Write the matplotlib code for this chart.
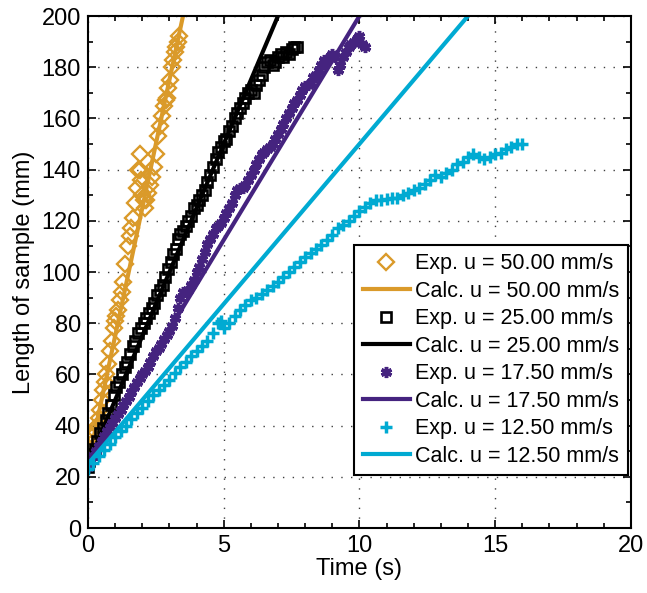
import matplotlib
matplotlib.use('Agg')
import matplotlib.pyplot as plt
from matplotlib.ticker import MultipleLocator

plt.rcParams['font.family'] = ['Liberation Sans', 'DejaVu Sans']

t_50 = [0, 0.05, 0.12, 0.2, 0.27, 0.32, 0.4, 0.45, 0.5, 0.55, 0.62, 0.68, 0.75, 0.82, 0.88,
        0.95, 1.0, 1.05, 1.1, 1.18, 1.25, 1.3, 1.38, 1.47, 1.55, 1.6, 1.66, 1.72, 1.8, 1.86,
        1.92, 1.92, 1.97, 2.0, 2.05, 2.1, 2.15, 2.2, 2.28, 2.36, 2.42, 2.5, 2.58, 2.65, 2.72,
        2.8, 2.86, 2.9, 2.96, 3.02, 3.08, 3.13, 3.2, 3.25, 3.3, 3.35]
y_50 = [27, 30, 33, 36, 38, 40, 43, 46, 50, 54, 57, 60, 64, 69, 73,
        78, 81, 83, 85, 89, 92, 96, 103, 110, 114, 117, 121, 127, 133, 140,
        146, 140, 136, 130, 128, 125, 128, 131, 134, 137, 141, 146, 153, 157, 161,
        165, 167, 168, 172, 175, 180, 183, 186, 188, 190, 192]

t_25 = [0, 0.05, 0.15, 0.25, 0.35, 0.45, 0.55, 0.65, 0.75, 0.85, 0.95, 1.05, 1.15, 1.25,
        1.35, 1.45, 1.55, 1.65, 1.75, 1.85, 1.95, 2.05, 2.15, 2.25, 2.35, 2.45, 2.55, 2.65,
        2.75, 2.85, 2.95, 3.05, 3.15, 3.25, 3.3, 3.4, 3.5, 3.6, 3.7, 3.8, 3.9, 4.0, 4.1, 4.2,
        4.3, 4.4, 4.5, 4.6, 4.7, 4.8, 4.9, 5.0, 5.1, 5.2, 5.3, 5.4, 5.5, 5.6, 5.7, 5.8, 5.9,
        6.0, 6.1, 6.2, 6.3, 6.4, 6.5, 6.6, 6.7, 6.8, 6.9, 7.0, 7.1, 7.2, 7.3, 7.4, 7.5, 7.6, 7.7]
y_25 = [24, 26, 29, 31, 34, 37, 39, 42, 45, 48, 52, 55, 57, 60,
        63, 65, 68, 71, 73, 76, 78, 80, 82, 84, 86, 88, 91, 93,
        95, 98, 101, 104, 107, 109, 113, 115, 116, 118, 120, 122, 125, 126, 128, 130,
        132, 135, 138, 141, 144, 147, 149, 151, 152, 155, 157, 160, 162, 164, 166, 168, 170,
        171, 170, 173, 175, 177, 180, 182, 183, 181, 182, 184, 185, 184, 186, 185, 187, 188, 188]

t_175 = [0, 0.1, 0.2, 0.3, 0.4, 0.5, 0.6, 0.7, 0.8, 0.9, 1.0, 1.1, 1.2, 1.3, 1.4, 1.5,
         1.6, 1.7, 1.8, 1.9, 2.0, 2.1, 2.2, 2.3, 2.4, 2.5, 2.6, 2.7, 2.8, 2.9, 3.0, 3.1,
         3.2, 3.3, 3.4, 3.5, 3.6, 3.7, 3.8, 3.9, 4.0, 4.1, 4.2, 4.3, 4.4, 4.5, 4.6, 4.7,
         4.8, 4.9, 5.0, 5.1, 5.2, 5.3, 5.4, 5.5, 5.6, 5.7, 5.8, 5.9, 6.0, 6.1, 6.2, 6.3,
         6.4, 6.5, 6.6, 6.7, 6.8, 6.9, 7.0, 7.1, 7.2, 7.3, 7.4, 7.5, 7.6, 7.7, 7.8, 7.9,
         8.0, 8.1, 8.2, 8.3, 8.4, 8.5, 8.6, 8.7, 8.8, 8.9, 9.0, 9.1, 9.2, 9.3, 9.4, 9.5,
         9.6, 9.7, 9.8, 9.9, 10.0, 10.1, 10.2]
y_175 = [24, 26, 28, 30, 32, 34, 36, 38, 39.5, 41, 43, 44.5, 46, 48, 49.5, 51,
         53, 55, 57, 58.5, 60, 61.5, 63, 65, 67, 69, 70.5, 72, 74, 75.5, 77, 79,
         82, 86, 90, 92, 92, 93, 95, 97, 100, 102, 105, 108, 111, 113, 115, 117,
         118, 119, 121, 123, 125, 127, 130, 132, 133, 133, 134, 136, 138, 140, 142, 144,
         146, 147, 148, 149, 150, 152, 154, 156, 158, 160, 162, 164, 166, 167, 169, 171,
         172.5, 173, 174, 176, 177, 179, 181, 183, 183, 184, 185, 184, 179, 181, 184, 186,
         188, 189, 190, 191, 192, 189, 188]

t_125 = [0, 0.2, 0.4, 0.6, 0.8, 1.0, 1.2, 1.4, 1.6, 1.8, 2.0, 2.2, 2.4, 2.6, 2.8, 3.0,
         3.2, 3.4, 3.6, 3.8, 4.0, 4.2, 4.4, 4.6, 4.8, 4.9, 5.0, 5.2, 5.4, 5.6, 5.8, 6.0,
         6.2, 6.4, 6.6, 6.8, 7.0, 7.2, 7.4, 7.6, 7.8, 8.0, 8.2, 8.4, 8.6, 8.8, 9.0, 9.2,
         9.4, 9.6, 9.8, 10.0, 10.2, 10.4, 10.6, 10.8, 11.0, 11.2, 11.4, 11.6, 11.8, 12.0,
         12.2, 12.4, 12.6, 12.8, 13.0, 13.2, 13.4, 13.6, 13.8, 14.0, 14.2, 14.4, 14.6, 14.8,
         15.0, 15.2, 15.4, 15.6, 15.8, 16.0]
y_125 = [23, 25.5, 28, 30.5, 33, 35.5, 38, 40, 42.5, 45, 47, 49.5, 52, 54, 56, 58,
         60.5, 63, 65, 67, 69, 71, 73, 76, 80, 81, 78, 80, 83, 85, 87, 89,
         90, 91.5, 93, 94.5, 96, 98, 100, 102, 104, 106, 107.5, 109, 110.5, 112.5, 114.5, 117,
         118.5, 120, 122, 124, 125.5, 127, 128, 128, 128.5, 129, 129, 130, 131, 132,
         133, 134.5, 136, 138, 137, 138.5, 140, 142, 143, 145, 146, 145, 144, 145,
         146, 146.5, 148, 149, 150, 150]

# calculated lines (end points)
calc_t = [0, 20]
calc_50 = [25, 1025]
calc_25 = [25, 525]
calc_175 = [25, 375]
calc_125 = [25, 275]

c_or = '#DA9A2A'
c_pu = '#45237F'
c_cy = '#00AAD2'

fig = plt.figure(figsize=(6.47, 5.93), dpi=100)
ax = fig.add_axes([0.136, 0.1096, 0.839, 0.8634])

ax.plot(t_50, y_50, 'D', mfc='none', mec=c_or, mew=1.7, ms=8.5, label='Exp. u = 50.00 mm/s')
ax.plot(calc_t, calc_50, '-', color=c_or, lw=3, label='Calc. u = 50.00 mm/s')
ax.plot(t_25, y_25, 's', mfc='none', mec='k', mew=1.9, ms=7, label='Exp. u = 25.00 mm/s')
ax.plot(calc_t, calc_25, '-', color='k', lw=3, label='Calc. u = 25.00 mm/s')
ax.plot(t_175, y_175, marker=(6, 2, 0), ls='none', color=c_pu, mec=c_pu, mew=2.5, ms=8,
        label='Exp. u = 17.50 mm/s')
ax.plot(calc_t, calc_175, '-', color=c_pu, lw=3, label='Calc. u = 17.50 mm/s')
ax.plot(t_125, y_125, '+', color=c_cy, mew=2.5, ms=8, label='Exp. u = 12.50 mm/s')
ax.plot(calc_t, calc_125, '-', color=c_cy, lw=3, label='Calc. u = 12.50 mm/s')

ax.set_xlim(0, 20)
ax.set_ylim(0, 200)
ax.xaxis.set_major_locator(MultipleLocator(5))
ax.xaxis.set_minor_locator(MultipleLocator(1))
ax.yaxis.set_major_locator(MultipleLocator(20))
ax.yaxis.set_minor_locator(MultipleLocator(10))
ax.tick_params(which='both', direction='in', top=True, right=True, labelsize=17, width=1.2)
ax.tick_params(which='major', length=6, pad=5)
ax.tick_params(which='minor', length=3.5)
for s in ax.spines.values():
    s.set_linewidth(1.5)
ax.grid(True, which='major', ls=(0, (1, 6)), color='0.25', lw=1)

ax.set_xlabel('Time (s)', fontsize=17, labelpad=1)
ax.set_ylabel('Length of sample (mm)', fontsize=17, labelpad=5)

leg = ax.legend(loc='lower right', bbox_to_anchor=(0.995, 0.103), borderaxespad=0,
                fontsize=15.5, fancybox=False, edgecolor='k', framealpha=1,
                labelspacing=0.3, handlelength=2.2, handletextpad=0.25, borderpad=0.4)
leg.get_frame().set_linewidth(1.5)

fig.savefig('out.png', dpi=100)
